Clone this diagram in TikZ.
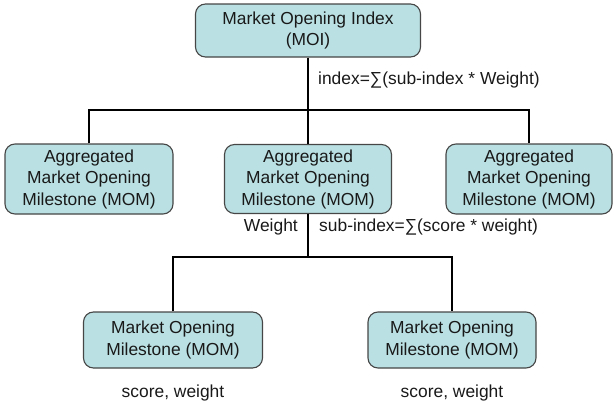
\documentclass[tikz,border=0pt]{standalone}
\usepackage{fontspec}
\setmainfont{Liberation Sans}
\definecolor{boxfill}{RGB}{186,224,227}
\definecolor{boxline}{RGB}{70,70,70}
\definecolor{txt}{RGB}{25,25,25}
\begin{document}
\begin{tikzpicture}[x=1pt,y=-1pt,
  every node/.style={font=\fontsize{17.4}{21.5}\selectfont, inner sep=0pt, text=txt},
  box/.style={draw=boxline, line width=1.1pt, fill=boxfill, rounded corners=10pt,
              align=center},
  link/.style={line width=2.6pt, black},
  note/.style={font=\fontsize{17.4}{21.5}\selectfont}]
\useasboundingbox (0,0) rectangle (614,407);

% top level
\node[box, minimum width=225pt, minimum height=53pt] (moi) at (308,30.5)
  {Market Opening Index\\(MOI)};

% aggregated milestones
\node[box, minimum width=168pt, minimum height=70pt] (agg1) at (89,179)
  {Aggregated\\Market Opening\\Milestone (MOM)};
\node[box, minimum width=167pt, minimum height=69pt] (agg2) at (308,179)
  {Aggregated\\Market Opening\\Milestone (MOM)};
\node[box, minimum width=166pt, minimum height=70pt] (agg3) at (529,179)
  {Aggregated\\Market Opening\\Milestone (MOM)};

% milestones
\node[box, minimum width=179pt, minimum height=56pt] (mom1) at (173,340)
  {Market Opening\\Milestone (MOM)};
\node[box, minimum width=168pt, minimum height=56pt] (mom2) at (452,340)
  {Market Opening\\Milestone (MOM)};

% bus coordinates
\coordinate (bus1) at (308,110);
\coordinate (bus2) at (308,257);

% connectors
\draw[link] (moi.south) -- (agg2.north);
\draw[link] (agg1.north) |- (bus1) -| (agg3.north);
\draw[link] (agg2.south) -- (bus2);
\draw[link] (mom1.north) |- (bus2) -| (mom2.north);

% formulas and labels
\node[note, anchor=west] (f1) at (318,80) {index=∑(sub-index * Weight)};
\node[note, anchor=east] (w) at (298,227) {Weight};
\node[note, anchor=west] (f2) at (319,227) {sub-index=∑(score * weight)};
\node[note] (s1) at (173,393) {score, weight};
\node[note] (s2) at (452,393) {score, weight};
\end{tikzpicture}
\end{document}
